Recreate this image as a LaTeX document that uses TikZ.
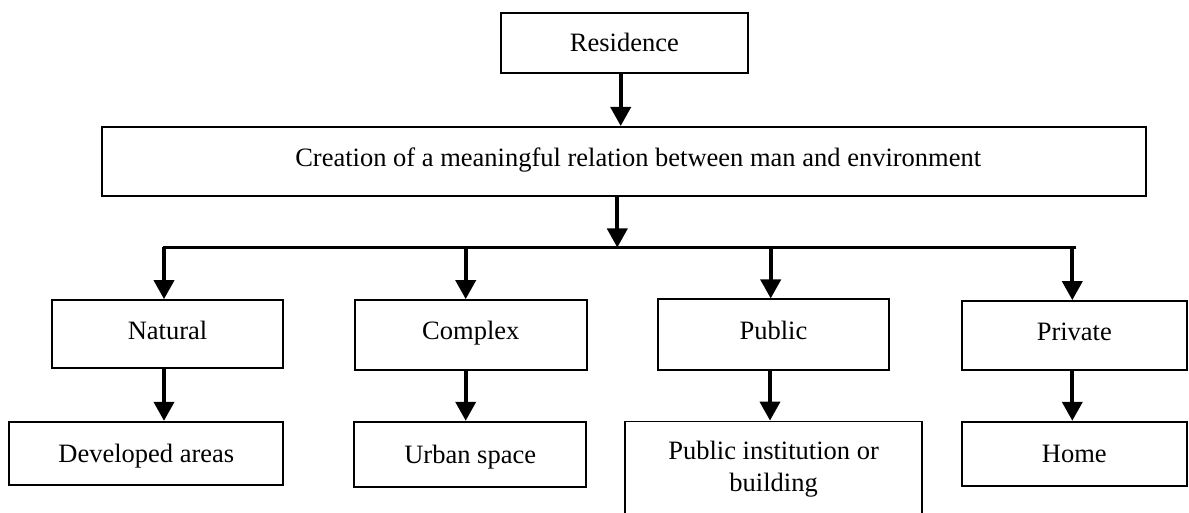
\documentclass[tikz,border=0pt]{standalone}
\usepackage{fontspec}
\setmainfont{Liberation Serif}
\usetikzlibrary{arrows.meta}
\begin{document}
\begin{tikzpicture}[x=1pt,y=-1pt,
  box/.style={draw=black,line width=1.8pt,inner sep=0pt,align=center,
    font=\fontsize{26.5}{31.6}\selectfont},
  upper/.style={text height=9.6pt,text depth=0pt},
  lower/.style={text height=17.6pt,text depth=0pt},
  arr/.style={line width=3.8pt,-{Triangle[width=20pt,length=19pt]}},
  busline/.style={line width=2.7pt}]
\clip (0,0) rectangle (1189,513);
% boxes
\node[box,lower,minimum width=247pt,minimum height=60pt] (res) at (624.4,42.9) {Residence};
\node[box,text height=10.8pt,text depth=0pt,minimum width=1044pt,minimum height=69pt] (rel) at (624.2,161.4)
  {\hspace*{28pt}Creation of a meaningful relation between man and environment};
\node[box,upper,minimum width=230.4pt,minimum height=68.3pt] (nat) at (167.5,334.2) {Natural};
\node[box,upper,minimum width=231.7pt,minimum height=70pt] (com) at (470.8,335) {Complex};
\node[box,upper,minimum width=230.4pt,minimum height=70.7pt] (pub) at (773.5,334.7) {Public};
\node[box,upper,minimum width=225.3pt,minimum height=69pt] (pri) at (1074.3,335.5) {Private};
\node[box,lower,minimum width=274pt,minimum height=63.3pt] (dev) at (146.3,453.4) {Developed areas};
\node[box,lower,minimum width=231.7pt,minimum height=65pt] (urb) at (470.2,454.2) {Urban space};
\node[box,minimum width=297.3pt,minimum height=95pt] (pin) at (773.6,469) {Public institution or\\building};
\node[box,lower,minimum width=225.3pt,minimum height=64pt] (hom) at (1074.3,453.7) {Home};
% bus coordinates
\coordinate (b1) at (164,247.5);
\coordinate (b2) at (465.7,247.5);
\coordinate (b3) at (770.7,247.5);
\coordinate (b4) at (1072.3,247.5);
\coordinate (bR) at (1076,247.5);
\coordinate (bm) at (617.3,247.5);
% connectors
\draw[arr] ([xshift=-3.7pt]res.south) -- ([xshift=-3.7pt]res.south |- rel.north);
\draw[arr] (bm |- rel.south) -- (bm);
\draw[busline] ([xshift=-0.7pt]b1) -- (bR);
\draw[arr] (b1) -- (b1 |- nat.north);
\draw[arr] (b2) -- (b2 |- com.north);
\draw[arr] (b3) -- (b3 |- pub.north);
\draw[arr] (b4) -- (b4 |- pri.north);
\draw[arr] (b1 |- nat.south) -- (b1 |- dev.north);
\draw[arr] (b2 |- com.south) -- (b2 |- urb.north);
\draw[arr] ([xshift=-0.7pt]b3 |- pub.south) -- ([xshift=-0.7pt]b3 |- pin.north);
\draw[arr] (b4 |- pri.south) -- (b4 |- hom.north);
\end{tikzpicture}
\end{document}
